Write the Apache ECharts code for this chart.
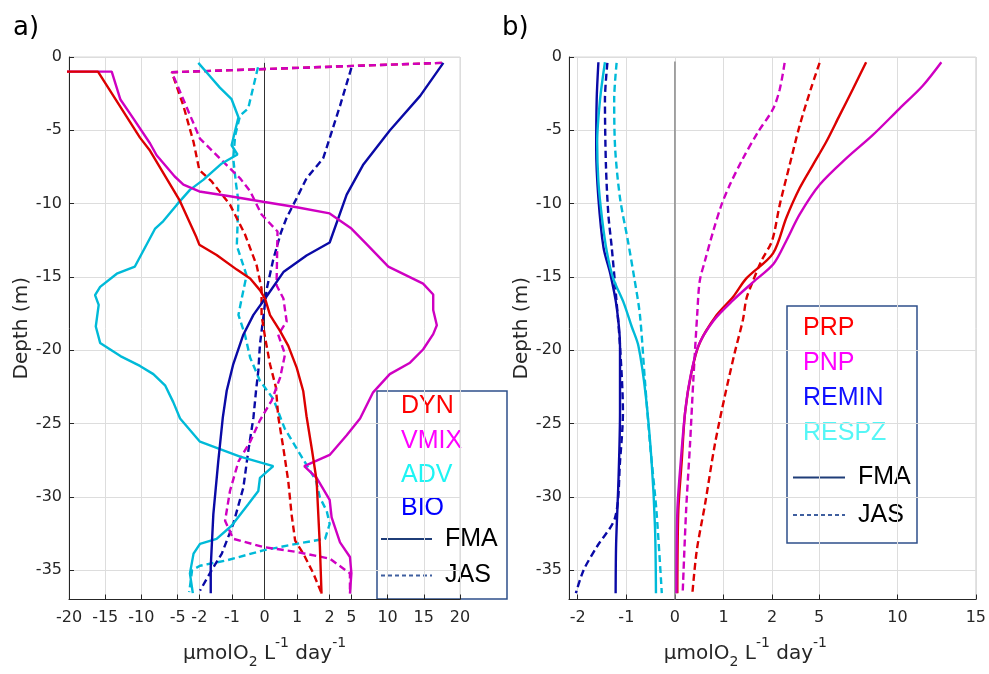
<!DOCTYPE html>
<html>
<head>
<meta charset="utf-8">
<script src="https://cdn.jsdelivr.net/npm/echarts@6/dist/echarts.min.js"></script>
<style>
  html, body { margin: 0; padding: 0; background: #ffffff; }
  #chart { width: 989px; height: 674px; }
</style>
</head>
<body>
<div id="chart"></div>
<script>
// Oxygen budget terms versus depth (µmol O2 L-1 day-1).
// Each profile is a list of [value, depth] pairs; FMA = solid, JAS = dashed.

// ---- tick labels ----
const ticksA = [-20, -15, -10, -5, -2, -1, 0, 1, 2, 5, 10, 15, 20];
const ticksB = [-2, -1, 0, 1, 2, 5, 10, 15];
const depthTicks = [0, -5, -10, -15, -20, -25, -30, -35];

// ---- panel a: physical terms and total biology ----
const dynFMA = [[-40, -1.0], [-16.0, -1.0], [-10.2, -5.5], [-8.8, -6.4], [-4.7, -9.8], [-2.4, -12.3],
  [-2.0, -12.8], [-1.47, -13.5], [-0.85, -14.5], [-0.44, -15.1], [-0.14, -15.9], [0.02, -16.5],
  [0.17, -17.6], [0.48, -18.7], [0.73, -19.7], [0.99, -21.2], [1.19, -22.8], [1.29, -24.5],
  [1.45, -26.7], [1.60, -28.9], [1.70, -33.4], [1.75, -36.6]];

const vmixFMA = [[-40, -1.0], [-14.1, -1.0], [-12.9, -2.9], [-11.1, -4.2], [-8.8, -5.9], [-7.9, -6.7],
  [-5.4, -8.15], [-4.2, -8.7], [-2.0, -9.17], [-1.06, -9.5], [0.0, -9.89], [0.99, -10.25],
  [2.0, -10.67], [5.0, -11.7], [7.1, -12.76], [10.1, -14.3], [14.9, -15.46], [16.3, -16.2],
  [16.3, -17.25], [16.8, -18.3], [16.3, -18.9], [14.9, -19.95], [13.1, -20.85], [10.3, -21.63],
  [8.0, -22.87], [6.2, -24.66], [4.35, -25.8], [2.0, -27.14], [1.22, -27.9], [1.6, -28.7],
  [2.0, -30.2], [2.27, -31.4], [3.43, -33.1], [4.8, -34.1], [5.0, -35.2], [4.8, -36.6]];

const advFMA = [[-2.14, -0.4], [-1.72, -1.19], [-1.37, -2.09], [-1.01, -2.88], [-0.80, -4.11],
  [-0.90, -5.01], [-1.01, -6.02], [-0.83, -6.65], [-1.31, -7.26], [-1.88, -8.38], [-3.3, -9.06],
  [-5.1, -10.07], [-6.97, -11.19], [-8.1, -11.7], [-10.9, -14.29], [-13.4, -14.78], [-15.7, -15.68],
  [-16.4, -16.24], [-15.9, -16.91], [-16.3, -18.38], [-15.7, -19.5], [-12.9, -20.4], [-10.2, -21.07],
  [-8.35, -21.63], [-6.7, -22.42], [-5.6, -23.54], [-4.66, -24.66], [-1.98, -26.24], [-0.75, -27.25],
  [0.27, -27.9], [-0.14, -28.7], [-0.19, -29.6], [-0.50, -30.5], [-1.01, -31.97], [-1.47, -32.86],
  [-1.98, -33.2], [-2.8, -33.87], [-3.3, -35.22], [-2.9, -36.57]];

const bioFMA = [[17.7, -0.4], [14.5, -2.65], [10.3, -5.01], [6.6, -7.37], [4.35, -9.39], [2.0, -12.65],
  [1.29, -13.54], [0.58, -14.67], [0.02, -16.47], [-0.34, -17.59], [-0.65, -18.94], [-0.96, -20.96],
  [-1.16, -22.76], [-1.28, -24.6], [-1.42, -27.59], [-1.57, -31.18], [-1.65, -34.77], [-1.65, -36.57]];

const dynJAS = [[17.5, -0.4], [-5.8, -1.04], [-4.2, -3.33], [-2.8, -5.8], [-2.0, -7.71], [-1.62, -8.49],
  [-1.06, -10.07], [-0.60, -12.09], [-0.24, -14.22], [-0.09, -15.8], [-0.09, -17.59], [0.02, -19.16],
  [0.17, -20.96], [0.35, -22.53], [0.42, -24.5], [0.58, -26.69], [0.73, -28.94], [0.83, -31.18],
  [0.94, -32.98], [1.19, -33.87], [1.50, -35.22], [1.75, -36.57]];

const vmixJAS = [[17.5, -0.4], [-5.8, -1.04], [-1.98, -5.57], [-1.37, -6.92], [-0.75, -8.27],
  [-0.44, -9.16], [-0.09, -10.74], [0.40, -11.9], [0.37, -15.57], [0.58, -16.47], [0.68, -18.04],
  [0.42, -18.94], [0.63, -20.28], [0.48, -21.86], [0.22, -23.43], [-0.14, -24.78], [-0.44, -26.24],
  [-0.80, -27.59], [-1.06, -29.6], [-1.21, -31.63], [-0.96, -32.86], [-0.04, -33.42], [0.99, -33.76],
  [2.0, -34.21], [4.8, -35.22], [4.8, -36.57]];

const advJAS = [[-0.2, -0.7], [-0.5, -3.5], [-0.75, -4.0], [-0.9, -5.35], [-0.96, -6.92], [-0.87, -8.72],
  [-0.8, -9.84], [-0.83, -11.64], [-0.85, -12.87], [-0.55, -14.89], [-0.70, -16.47], [-0.80, -17.59],
  [-0.60, -18.94], [-0.44, -20.51], [-0.14, -22.08], [0.27, -23.32], [0.62, -25.34], [1.15, -27.3],
  [1.58, -28.9], [1.70, -30.05], [1.91, -30.96], [2.0, -31.85], [1.86, -32.86], [0.99, -33.2],
  [-0.04, -33.65], [-1.16, -34.33], [-1.98, -34.7], [-3.0, -35.0], [-3.4, -36.5]];

const bioJAS = [[5.0, -0.74], [3.43, -3.33], [2.27, -5.12], [1.80, -6.92], [1.29, -8.27], [0.99, -9.62],
  [0.68, -10.96], [0.50, -12.0], [0.27, -13.8], [0.07, -15.8], [-0.04, -17.82], [-0.14, -19.61],
  [-0.19, -21.41], [-0.26, -22.76], [-0.34, -24.6], [-0.5, -26.91], [-0.65, -29.38], [-0.96, -31.85],
  [-1.31, -33.87], [-1.62, -35.0], [-1.98, -36.4]];

// ---- panel b: biological terms ----
const prpFMA = [[8.0, -0.36], [7.15, -2.2], [6.3, -4.0], [5.45, -5.8], [4.6, -7.37], [3.76, -8.94],
  [2.91, -10.96], [2.06, -13.39], [1.47, -15.1], [1.20, -16.35], [0.86, -17.6], [0.51, -19.5],
  [0.34, -21.52], [0.21, -24.22], [0.14, -27.59], [0.07, -30.96], [0.05, -36.57]];

const pnpFMA = [[12.8, -0.36], [11.6, -1.98], [10.1, -3.55], [8.4, -5.35], [6.73, -6.92], [5.03, -8.72],
  [3.76, -10.74], [2.91, -12.53], [2.1, -14.1], [1.61, -15.35], [1.20, -16.58], [0.79, -18.0],
  [0.48, -19.72], [0.31, -21.97], [0.21, -24.22], [0.12, -27.59], [0.05, -30.96], [0.03, -36.57]];

const reminFMA = [[-1.575, -0.36], [-1.61, -2.88], [-1.62, -6.25], [-1.575, -9.62], [-1.47, -12.99],
  [-1.33, -14.78], [-1.20, -17.03], [-1.13, -19.72], [-1.13, -24.22], [-1.16, -28.71], [-1.21, -33.2],
  [-1.22, -36.57]];

const respzFMA = [[-1.44, -0.36], [-1.54, -2.88], [-1.60, -5.8], [-1.575, -8.49], [-1.50, -11.0],
  [-1.40, -13.3], [-1.27, -15.1], [-1.05, -16.8], [-0.89, -18.38], [-0.75, -19.72], [-0.60, -23.09],
  [-0.48, -27.59], [-0.41, -32.08], [-0.39, -36.57]];

const prpJAS = [[5.03, -0.4], [4.5, -2.09], [3.76, -4.67], [3.12, -7.37], [2.49, -10.07], [2.0, -12.53],
  [1.78, -13.9], [1.58, -15.5], [1.47, -16.5], [1.40, -17.92], [1.23, -20.18], [1.03, -23.09],
  [0.82, -26.46], [0.62, -30.5], [0.45, -33.65], [0.36, -36.57]];

const pnpJAS = [[2.8, -0.4], [2.49, -2.2], [2.06, -3.55], [1.71, -5.12], [1.40, -6.92], [1.13, -8.72],
  [0.96, -10.07], [0.79, -11.86], [0.62, -13.88], [0.51, -15.3], [0.46, -17.5], [0.38, -21.97],
  [0.31, -26.46], [0.23, -30.96], [0.16, -36.57]];

const reminJAS = [[-1.39, -0.4], [-1.44, -2.88], [-1.42, -7.37], [-1.37, -10.74], [-1.30, -13.0],
  [-1.21, -16.35], [-1.13, -19.72], [-1.07, -24.22], [-1.13, -27.59], [-1.23, -31.4], [-1.61, -33.42],
  [-1.88, -35.0], [-2.12, -36.57]];

const respzJAS = [[-1.20, -0.4], [-1.25, -2.88], [-1.23, -6.25], [-1.13, -9.62], [-0.97, -12.5],
  [-0.84, -15.0], [-0.72, -17.6], [-0.62, -21.97], [-0.51, -26.46], [-0.38, -30.96], [-0.27, -36.57]];

// vertical reference line at zero
const zeroA = [[0, -0.4], [0, -37]];
const zeroB = [[0, -0.3], [0, -37]];

// ---- piecewise-linear x scale: linear inside ±2, compressed outside ----
function squash(ratio) {
  return function (v) {
    const a = Math.abs(v);
    return a <= 2 ? v : Math.sign(v) * (2 + (a - 2) / ratio);
  };
}
const ta = squash(4.5);
const tb = squash(3.1);

const INK = '#262626';
const FONT = 'DejaVu Sans';
const RED = '#dc0000', MAG = '#cf00c2', CYAN = '#00bad8', NAVY = '#0a0aa6';
const LW = 2.4;

function tickFormatter(ticks, tf) {
  return function (v) {
    for (const t of ticks) if (Math.abs(tf(t) - v) < 1e-6) return String(t);
    return '';
  };
}

function profile(pts, tf, axis, color, dashed, smooth, z) {
  return {
    type: 'line',
    xAxisIndex: axis, yAxisIndex: axis,
    data: pts.map(p => [tf(p[0]), p[1]]),
    symbol: 'none', showSymbol: false, smooth: smooth, clip: true,
    lineStyle: { color: color, width: LW, type: dashed ? [7, 4] : 'solid' },
    silent: true, animation: false, z: z
  };
}

function zeroLine(pts, axis, color, width) {
  return {
    type: 'line', xAxisIndex: axis, yAxisIndex: axis,
    data: pts, symbol: 'none', silent: true, animation: false, z: 1,
    lineStyle: { color: color, width: width }
  };
}

const unitName = '{m|µmolO}{s|2}{m| L}{p|-1}{m| day}{p|-1}';
const unitRich = {
  m: { fontFamily: FONT, fontSize: 20, color: INK },
  s: { fontFamily: FONT, fontSize: 14, color: INK, padding: [17, 0, 0, 0] },
  p: { fontFamily: FONT, fontSize: 14, color: INK, padding: [0, 0, 20, 0] }
};

function xAxisFor(idx, ticks, tf, lo, hi, namePad) {
  return {
    type: 'value', gridIndex: idx, min: lo, max: hi,
    axisLine: { show: true, onZero: false, lineStyle: { color: INK, width: 1 } },
    axisTick: { show: true, inside: true, length: 5, lineStyle: { color: INK }, customValues: ticks.map(tf) },
    axisLabel: { customValues: ticks.map(tf), formatter: tickFormatter(ticks, tf),
      color: INK, fontFamily: FONT, fontSize: 16, margin: 10 },
    splitLine: { show: true, lineStyle: { color: '#dddddd', width: 1 } },
    name: unitName, nameLocation: 'middle', nameGap: 37,
    nameTextStyle: { rich: unitRich, padding: namePad }
  };
}

function yAxisFor(idx) {
  return {
    type: 'value', gridIndex: idx, min: -37, max: 0,
    axisLine: { show: true, onZero: false, lineStyle: { color: INK, width: 1 } },
    axisTick: { show: true, inside: true, length: 5, lineStyle: { color: INK }, customValues: depthTicks },
    axisLabel: { customValues: depthTicks, color: INK, fontFamily: FONT, fontSize: 16, margin: 7 },
    splitLine: { show: true, lineStyle: { color: '#dddddd', width: 1 } },
    name: 'Depth (m)', nameLocation: 'middle', nameRotate: 90, nameGap: 36,
    nameTextStyle: { fontFamily: FONT, fontSize: 20, color: INK }
  };
}

function legendBox(x, y, w, h, entries, fmaY, jasY, lineX0, lineX1, textX) {
  const kids = [{
    type: 'rect', shape: { x: x, y: y, width: w, height: h },
    style: { fill: 'none', stroke: '#2e4f8a', lineWidth: 1.5 }
  }];
  entries.forEach(e => kids.push({
    type: 'text', x: e.x, y: e.y,
    style: { text: e.label, fill: e.color, font: '25px "Liberation Sans", Arial, sans-serif', verticalAlign: 'middle' }
  }));
  kids.push({ type: 'line', shape: { x1: lineX0, y1: fmaY, x2: lineX1, y2: fmaY },
    style: { stroke: '#1f3d78', lineWidth: 2 } });
  kids.push({ type: 'line', shape: { x1: lineX0, y1: jasY, x2: lineX1, y2: jasY },
    style: { stroke: '#3f5f9f', lineWidth: 2, lineDash: [4, 3] } });
  kids.push({ type: 'text', x: textX, y: fmaY,
    style: { text: 'FMA', fill: '#000', font: '25px "Liberation Sans", Arial, sans-serif', verticalAlign: 'middle' } });
  kids.push({ type: 'text', x: textX, y: jasY,
    style: { text: 'JAS', fill: '#000', font: '25px "Liberation Sans", Arial, sans-serif', verticalAlign: 'middle' } });
  return { type: 'group', silent: true, children: kids };
}

const chart = echarts.init(document.getElementById('chart'), null, { renderer: 'canvas' });

chart.setOption({
  backgroundColor: '#ffffff',
  animation: false,
  grid: [
    { left: 69, top: 57, width: 391, height: 549, show: true, borderColor: '#d6d6d6', borderWidth: 1, containLabel: false },
    { left: 569, top: 57, width: 409, height: 549, show: true, borderColor: '#d6d6d6', borderWidth: 1, containLabel: false }
  ],
  xAxis: [
    xAxisFor(0, ticksA, ta, -6, 6, [0, 0, 0, 0]),
    xAxisFor(1, ticksB, tb, -2.18, tb(15), [0, 54, 0, 0])
  ],
  yAxis: [yAxisFor(0), yAxisFor(1)],
  series: [
    zeroLine(zeroA, 0, '#303030', 1),
    zeroLine(zeroB, 1, '#8c8c8c', 1.5),
    profile(advJAS, ta, 0, CYAN, true, false, 3),
    profile(bioJAS, ta, 0, NAVY, true, false, 3),
    profile(dynJAS, ta, 0, RED, true, false, 3),
    profile(vmixJAS, ta, 0, MAG, true, false, 3),
    profile(advFMA, ta, 0, CYAN, false, false, 4),
    profile(bioFMA, ta, 0, NAVY, false, false, 4),
    profile(vmixFMA, ta, 0, MAG, false, false, 4),
    profile(dynFMA, ta, 0, RED, false, false, 4),
    profile(respzJAS, tb, 1, CYAN, true, 0.3, 3),
    profile(reminJAS, tb, 1, NAVY, true, 0.3, 3),
    profile(prpJAS, tb, 1, RED, true, 0.3, 3),
    profile(pnpJAS, tb, 1, MAG, true, 0.3, 3),
    profile(reminFMA, tb, 1, NAVY, false, 0.3, 4),
    profile(respzFMA, tb, 1, CYAN, false, 0.3, 4),
    profile(prpFMA, tb, 1, RED, false, 0.3, 4),
    profile(pnpFMA, tb, 1, MAG, false, 0.3, 4)
  ],
  graphic: [
    { type: 'text', x: 13, y: 28, silent: true,
      style: { text: 'a)', fill: '#000', font: '26px "DejaVu Sans"', verticalAlign: 'middle' } },
    { type: 'text', x: 502, y: 28, silent: true,
      style: { text: 'b)', fill: '#000', font: '26px "DejaVu Sans"', verticalAlign: 'middle' } },
    legendBox(377, 391, 130, 208, [
      { label: 'DYN', color: '#ff0000', x: 401, y: 406 },
      { label: 'VMIX', color: '#ff00ff', x: 401, y: 441 },
      { label: 'ADV', color: '#1ef4f4', x: 401, y: 475 },
      { label: 'BIO', color: '#0000ff', x: 401, y: 508 }
    ], 539, 575.5, 381, 432, 445),
    legendBox(787, 306, 130, 237, [
      { label: 'PRP', color: '#ff0000', x: 803, y: 328 },
      { label: 'PNP', color: '#ff00ff', x: 803, y: 363 },
      { label: 'REMIN', color: '#1010ff', x: 803, y: 398 },
      { label: 'RESPZ', color: '#55f6f6', x: 803, y: 433 }
    ], 477.5, 515, 793, 845, 858)
  ]
});
</script>
</body>
</html>
